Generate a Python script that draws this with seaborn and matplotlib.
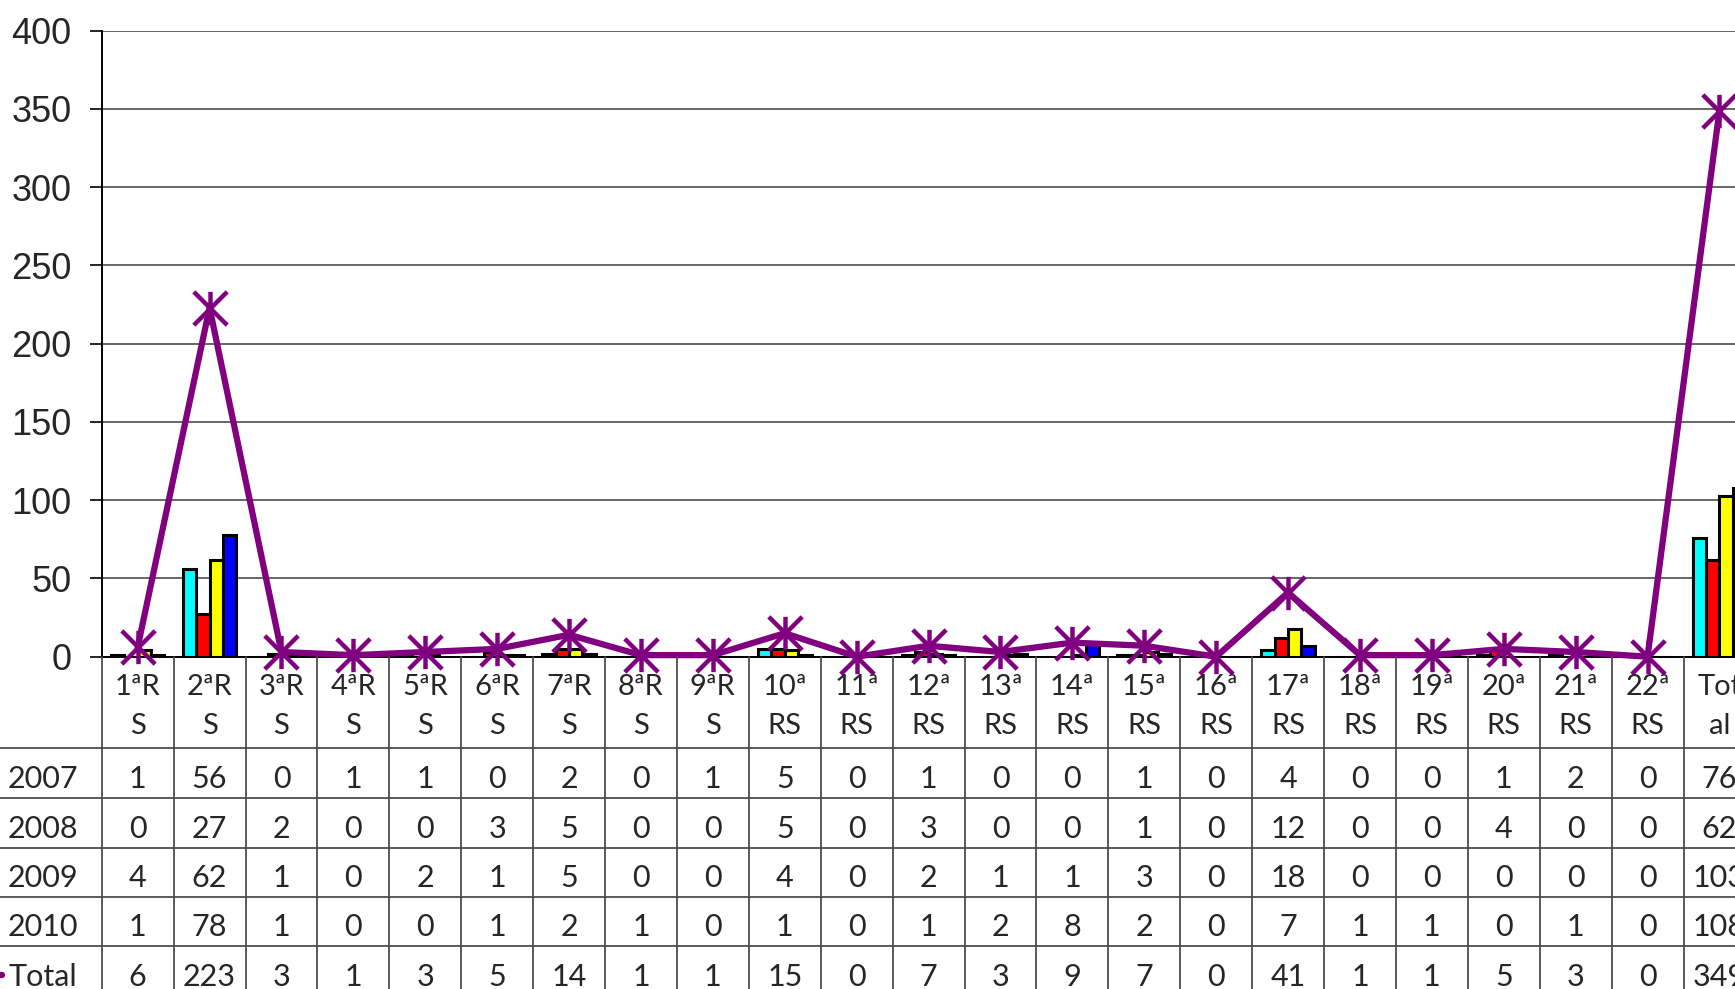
import numpy as np
import pandas as pd
import matplotlib
matplotlib.use("Agg")
import matplotlib.pyplot as plt
import seaborn as sns
from matplotlib.path import Path

# Cases per health region (RS) and year
categories = ["1ªRS", "2ªRS", "3ªRS", "4ªRS", "5ªRS", "6ªRS", "7ªRS", "8ªRS",
              "9ªRS", "10ªRS", "11ªRS", "12ªRS", "13ªRS", "14ªRS", "15ªRS",
              "16ªRS", "17ªRS", "18ªRS", "19ªRS", "20ªRS", "21ªRS", "22ªRS",
              "Total"]
years = ["2007", "2008", "2009", "2010"]
v2007 = [1, 56, 0, 1, 1, 0, 2, 0, 1, 5, 0, 1, 0, 0, 1, 0, 4, 0, 0, 1, 2, 0, 76]
v2008 = [0, 27, 2, 0, 0, 3, 5, 0, 0, 5, 0, 3, 0, 0, 1, 0, 12, 0, 0, 4, 0, 0, 62]
v2009 = [4, 62, 1, 0, 2, 1, 5, 0, 0, 4, 0, 2, 1, 1, 3, 0, 18, 0, 0, 0, 0, 0, 103]
v2010 = [1, 78, 1, 0, 0, 1, 2, 1, 0, 1, 0, 1, 2, 8, 2, 0, 7, 1, 1, 0, 1, 0, 108]
total = [6, 223, 3, 1, 3, 5, 14, 1, 1, 15, 0, 7, 3, 9, 7, 0, 41, 1, 1, 5, 3, 0, 349]
y_ticks = [0, 50, 100, 150, 200, 250, 300, 350, 400]

bar_colors = ["#00FFFF", "#FF0000", "#FFFF00", "#0000FF"]
purple = "#800080"
grid_c = "#4d4d4d"

W, H = 1735, 989
X0, CW = 101.7, 71.9          # left edge of plot, column width (px)
Y0, YT = 656.7, 30.7          # baseline and top of plot (px)
n = len(categories)

sns.set_theme(style="white")
plt.rcParams["font.family"] = ["Lato", "DejaVu Sans"]

fig = plt.figure(figsize=(W / 100, H / 100), dpi=100)
ax = fig.add_axes([X0 / W, (H - Y0) / H, n * CW / W, (Y0 - YT) / H])

df = pd.DataFrame({
    "cat": categories * 4,
    "year": np.repeat(years, n),
    "val": np.concatenate([v2007, v2008, v2009, v2010]),
})
sns.barplot(data=df, x="cat", y="val", hue="year", order=categories,
            hue_order=years, palette=bar_colors, saturation=1, width=0.745,
            gap=0, edgecolor="black", linewidth=2.2, errorbar=None,
            legend=False, ax=ax, zorder=3)

# Asterisk marker: an X crossed by a vertical stroke
star = Path([(-1, -1), (1, 1), (-1, 1), (1, -1), (0, -1), (0, 1)],
            [Path.MOVETO, Path.LINETO, Path.MOVETO, Path.LINETO,
             Path.MOVETO, Path.LINETO])
sns.lineplot(x=np.arange(n), y=total, color=purple, lw=4.5, marker=star,
             markersize=24, markeredgewidth=3.2, markeredgecolor=purple,
             ax=ax, zorder=5, clip_on=False, legend=False)

ax.set_xlim(-0.5, n - 0.5)
ax.set_ylim(0, 400)
ax.set_yticks(y_ticks)
ax.set_xticks([])
ax.set_xlabel("")
ax.set_ylabel("")
ax.yaxis.grid(True, color=grid_c, lw=1.2)
ax.set_axisbelow(True)
for s in ["top", "right"]:
    ax.spines[s].set_visible(False)
for s in ["left", "bottom"]:
    ax.spines[s].set_color("black")
    ax.spines[s].set_linewidth(1.4)
ax.tick_params(axis="y", left=True, length=8.6, width=1.2, color="black",
               direction="out", pad=13, labelsize=26,
               labelfontfamily="Liberation Sans")

# Data table under the plot
tab = fig.add_axes([X0 / W, 0, n * CW / W, (H - Y0) / H])
tab.set_xlim(-0.5, n - 0.5)
tab.set_ylim(H, Y0)
tab.axis("off")


def px2x(px):
    return -0.5 + (px - X0) / CW


row_lines = [748.3, 798.0, 847.6, 897.0, 946.0, 995.5]
for k in range(n + 1):
    tab.plot([k - 0.5] * 2, [Y0, H], color=grid_c, lw=1.3, clip_on=False)
for y in row_lines:
    tab.plot([px2x(0), n - 0.5], [y, y], color=grid_c, lw=1.3, clip_on=False)

for i, c in enumerate(categories):
    tab.text(i, 687, c[:3], ha="center", va="center", fontsize=21)
    tab.text(i, 726, c[3:], ha="center", va="center", fontsize=21)

rows = [("2007", v2007), ("2008", v2008), ("2009", v2009), ("2010", v2010),
        ("Total", total)]
for r, (name, vals) in enumerate(rows):
    yc = (row_lines[r] + row_lines[r + 1]) / 2 + 6
    tab.text(px2x(8), yc, name, ha="left", va="center", fontsize=22,
             clip_on=False)
    for i, v in enumerate(vals):
        tab.text(i, yc, str(v), ha="center", va="center", fontsize=22)
    if name == "Total":
        tab.plot([px2x(-30), px2x(2)], [yc - 2, yc - 2], color=purple,
                 lw=4.5, clip_on=False)

fig.savefig("out.png", dpi=100)
